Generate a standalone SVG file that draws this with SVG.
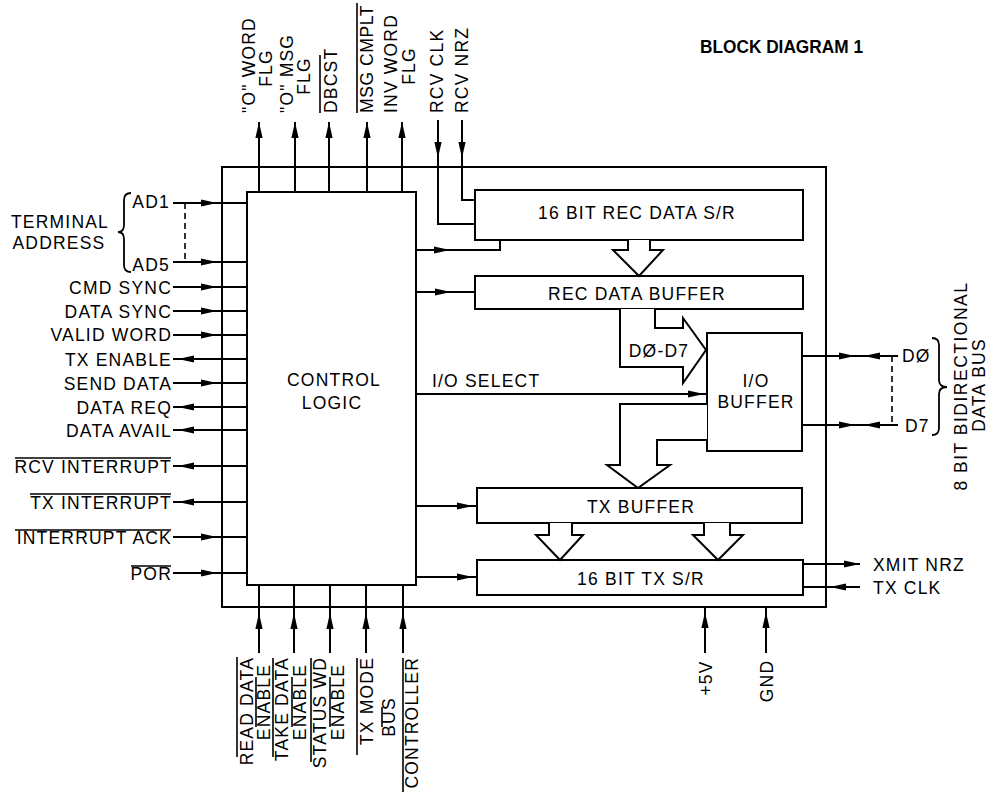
<svg xmlns="http://www.w3.org/2000/svg" xmlns:xlink="http://www.w3.org/1999/xlink" width="993" height="796" viewBox="0 0 993 796">
<defs>
<style>
.t{font-family:"Liberation Sans",Arial,Helvetica,sans-serif;font-size:17.5px;letter-spacing:1.2px;fill:#000}
.m{text-anchor:middle}
.e{text-anchor:end}
.bx{fill:#fff;stroke:#000;stroke-width:2}
.ob{fill:none;stroke:#000;stroke-width:2}
.ln{fill:none;stroke:#000;stroke-width:2}
.ol{fill:none;stroke:#000;stroke-width:1.6}
.wa{fill:#fff;stroke:#000;stroke-width:2;stroke-linejoin:miter}
.ds{fill:none;stroke:#000;stroke-width:1.6;stroke-dasharray:6 4}
.br{fill:none;stroke:#000;stroke-width:1.8}
</style>
<path id="ah" d="M0,0 L-16,-3.6 L-16,3.6 Z" fill="#000"/>
</defs>
<rect width="993" height="796" fill="#fff"/>

<text class="t" x="700" y="53" font-weight="bold" font-size="20" textLength="163" lengthAdjust="spacingAndGlyphs" style="letter-spacing:0">BLOCK DIAGRAM 1</text>

<g id="outer-box"><rect class="ob" x="222" y="167" width="604" height="440"/></g>

<g id="connectors">
<path class="ln" d="M173,203H248M173,262H248M173,287H248M173,311H248M173,335H248M173,359H248M173,383H248M173,407H248M173,430H248M173,466H248M173,502H248M173,537H248M173,573H248"/>
<path class="ds" d="M185,203V262"/>
<use xlink:href="#ah" transform="translate(217,203)"/>
<use xlink:href="#ah" transform="translate(217,262)"/>
<use xlink:href="#ah" transform="translate(217,287)"/>
<use xlink:href="#ah" transform="translate(217,311)"/>
<use xlink:href="#ah" transform="translate(217,335)"/>
<use xlink:href="#ah" transform="translate(178,359) rotate(180)"/>
<use xlink:href="#ah" transform="translate(217,383)"/>
<use xlink:href="#ah" transform="translate(178,407) rotate(180)"/>
<use xlink:href="#ah" transform="translate(178,430) rotate(180)"/>
<use xlink:href="#ah" transform="translate(178,466) rotate(180)"/>
<use xlink:href="#ah" transform="translate(178,502) rotate(180)"/>
<use xlink:href="#ah" transform="translate(217,537)"/>
<use xlink:href="#ah" transform="translate(217,573)"/>
<path class="ln" d="M259,122V192M295,122V192M329,122V192M367,122V192M402,122V192"/>
<use xlink:href="#ah" transform="translate(259,122) rotate(-90)"/>
<use xlink:href="#ah" transform="translate(295,122) rotate(-90)"/>
<use xlink:href="#ah" transform="translate(329,122) rotate(-90)"/>
<use xlink:href="#ah" transform="translate(367,122) rotate(-90)"/>
<use xlink:href="#ah" transform="translate(402,122) rotate(-90)"/>
<path class="ln" d="M438,120V224H475M462,120V200H475"/>
<use xlink:href="#ah" transform="translate(438,158) rotate(90)"/>
<use xlink:href="#ah" transform="translate(462,158) rotate(90)"/>
<path class="ln" d="M259,585V653M294,585V653M330,585V653M366,585V653M403,585V653M705,607V653M766,607V653"/>
<use xlink:href="#ah" transform="translate(259,613) rotate(-90)"/>
<use xlink:href="#ah" transform="translate(294,613) rotate(-90)"/>
<use xlink:href="#ah" transform="translate(330,613) rotate(-90)"/>
<use xlink:href="#ah" transform="translate(366,613) rotate(-90)"/>
<use xlink:href="#ah" transform="translate(403,613) rotate(-90)"/>
<use xlink:href="#ah" transform="translate(705,612) rotate(-90)"/>
<use xlink:href="#ah" transform="translate(766,612) rotate(-90)"/>
<path class="ln" d="M416,250H500V240M416,292H475M416,394H707M416,506H477M416,577H477"/>
<use xlink:href="#ah" transform="translate(450,250)"/>
<use xlink:href="#ah" transform="translate(451,292)"/>
<use xlink:href="#ah" transform="translate(704,394)"/>
<use xlink:href="#ah" transform="translate(473,506)"/>
<use xlink:href="#ah" transform="translate(473,577)"/>
<path class="ln" d="M802,356H898M802,425H898"/>
<path class="ds" d="M892,356V425"/>
<use xlink:href="#ah" transform="translate(855,356)"/>
<use xlink:href="#ah" transform="translate(864,356) rotate(180)"/>
<use xlink:href="#ah" transform="translate(855,425)"/>
<use xlink:href="#ah" transform="translate(864,425) rotate(180)"/>
<path class="ln" d="M803,564H860M803,587H860"/>
<use xlink:href="#ah" transform="translate(860,564)"/>
<use xlink:href="#ah" transform="translate(830,587) rotate(180)"/>
</g>

<g id="control-logic">
<rect class="bx" x="247" y="192" width="169" height="393"/>
<text class="t m" x="334" y="386">CONTROL</text>
<text class="t m" x="332" y="409">LOGIC</text>
</g>
<g id="rec-data-sr">
<rect class="bx" x="475" y="190" width="328" height="50"/>
<text class="t m" x="637" y="219">16 BIT REC DATA S/R</text>
</g>
<g id="rec-data-buffer">
<rect class="bx" x="475" y="276" width="328" height="33"/>
<text class="t m" x="637" y="300">REC DATA BUFFER</text>
</g>
<g id="io-buffer">
<rect class="bx" x="707" y="333" width="95" height="118"/>
<text class="t m" x="756" y="387">I/O</text>
<text class="t m" x="756" y="408">BUFFER</text>
</g>
<g id="tx-buffer">
<rect class="bx" x="477" y="488" width="325" height="35"/>
<text class="t m" x="641" y="513">TX BUFFER</text>
</g>
<g id="tx-sr">
<rect class="bx" x="477" y="560" width="326" height="35"/>
<text class="t m" x="641" y="585">16 BIT TX S/R</text>
</g>

<g id="bus-arrows">
<polyline class="wa" points="628,240 628,250 613,250 639,276 663,250 650,250 650,240"/>
<polyline class="wa" points="620,309 620,367 683,367 683,383 706,350 683,318 683,328 655,328 655,309"/>
<polyline class="wa" points="707,404 620,404 620,465 607,465 638,488 670,465 657,465 657,440 707,440"/>
<polyline class="wa" points="549,523 549,535 536,535 560,560 583,535 572,535 572,523"/>
<polyline class="wa" points="704,523 704,535 693,535 718,560 743,535 730,535 730,523"/>
<text class="t m" x="659" y="357">DØ-D7</text>
<text class="t" x="432" y="387">I/O SELECT</text>
</g>

<g id="left-labels">
<path class="br" d="M131,193Q124,193 124,200L124,225Q124,232 118,232Q124,232 124,239L124,265Q124,272 131,272"/>
<text class="t m" x="60" y="228">TERMINAL</text>
<text class="t m" x="59" y="249">ADDRESS</text>
<text class="t e" x="170" y="208">AD1</text>
<text class="t e" x="170" y="271">AD5</text>
<text class="t e" x="172" y="294">CMD SYNC</text>
<text class="t e" x="172" y="318">DATA SYNC</text>
<text class="t e" x="172" y="341">VALID WORD</text>
<text class="t e" x="172" y="366">TX ENABLE</text>
<text class="t e" x="172" y="390">SEND DATA</text>
<text class="t e" x="172" y="414">DATA REQ</text>
<text class="t e" x="172" y="437">DATA AVAIL</text>
<text class="t e" x="172" y="473">RCV INTERRUPT</text>
<text class="t e" x="172" y="509">TX INTERRUPT</text>
<text class="t e" x="172" y="544">INTERRUPT ACK</text>
<text class="t e" x="172" y="580">POR</text>
<path class="ol" d="M15,458H171M30,494H171M15,530H171M131,566H171"/>
</g>

<g id="top-labels">
<text class="t" transform="translate(255,113) rotate(-90)">"O" WORD</text>
<text class="t m" transform="translate(272,68) rotate(-90)">FLG</text>
<text class="t" transform="translate(293,113) rotate(-90)">"O" MSG</text>
<text class="t m" transform="translate(310,76) rotate(-90)">FLG</text>
<text class="t" transform="translate(337,113) rotate(-90)">DBCST</text>
<text class="t" transform="translate(373,113) rotate(-90)" style="letter-spacing:0.6px">MSG CMPLT</text>
<text class="t" transform="translate(397,113) rotate(-90)">INV WORD</text>
<text class="t m" transform="translate(415,66) rotate(-90)">FLG</text>
<text class="t" transform="translate(443,113) rotate(-90)">RCV CLK</text>
<text class="t" transform="translate(468,113) rotate(-90)">RCV NRZ</text>
<path class="ol" d="M320,55V113M357,3V113"/>
</g>

<g id="bottom-labels">
<text class="t e" transform="translate(253,657) rotate(-90)">READ DATA</text>
<text class="t m" transform="translate(270,702) rotate(-90)">ENABLE</text>
<text class="t e" transform="translate(288,657) rotate(-90)">TAKE DATA</text>
<text class="t m" transform="translate(306,702) rotate(-90)">ENABLE</text>
<text class="t e" transform="translate(326,657) rotate(-90)">STATUS WD</text>
<text class="t m" transform="translate(344,702) rotate(-90)">ENABLE</text>
<text class="t e" transform="translate(373,657) rotate(-90)">TX MODE</text>
<text class="t m" transform="translate(395,717) rotate(-90)">BUS</text>
<text class="t e" transform="translate(418,657) rotate(-90)">CONTROLLER</text>
<path class="ol" d="M237,657V757M256,677V727M273,658V757M292,677V727M311,658V762M330,677V727M357,658V755M382,707V727M403,658V792"/>
<text class="t m" transform="translate(712,678) rotate(-90)">+5V</text>
<text class="t m" transform="translate(773,681) rotate(-90)">GND</text>
</g>

<g id="right-labels">
<text class="t" x="873" y="571">XMIT NRZ</text>
<text class="t" x="873" y="594">TX CLK</text>
<text class="t" x="902" y="362">DØ</text>
<text class="t" x="905" y="432">D7</text>
<path class="br" d="M932,338Q939,338 939,345L939,380Q939,387 947,387Q939,387 939,394L939,428Q939,435 932,435"/>
<text class="t m" transform="translate(967,386) rotate(-90)" style="letter-spacing:1.5px">8 BIT BIDIRECTIONAL</text>
<text class="t m" transform="translate(985,385) rotate(-90)">DATA BUS</text>
</g>
</svg>
